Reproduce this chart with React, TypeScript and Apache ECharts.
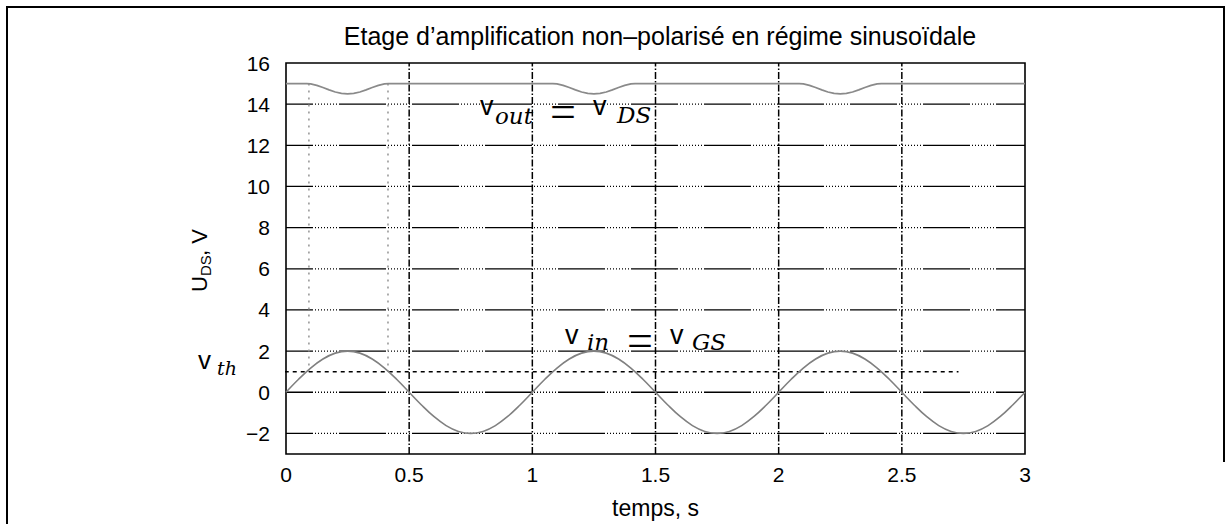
import React, { useEffect, useRef } from "react";
import * as echarts from "echarts";

const titleText = "Etage d’amplification non–polarisé en régime sinusoïdale";
const xAxisName = "temps, s";

// time samples for v_in (s)
const timeS = [
  0, 0.05, 0.1, 0.15, 0.2, 0.25, 0.3, 0.35, 0.4, 0.45,
  0.5, 0.55, 0.6, 0.65, 0.7, 0.75, 0.8, 0.85, 0.9, 0.95,
  1, 1.05, 1.1, 1.15, 1.2, 1.25, 1.3, 1.35, 1.4, 1.45,
  1.5, 1.55, 1.6, 1.65, 1.7, 1.75, 1.8, 1.85, 1.9, 1.95,
  2, 2.05, 2.1, 2.15, 2.2, 2.25, 2.3, 2.35, 2.4, 2.45,
  2.5, 2.55, 2.6, 2.65, 2.7, 2.75, 2.8, 2.85, 2.9, 2.95,
  3,
];
// v_in = v_GS (V)
const vinValues = [
  0, 0.618, 1.176, 1.618, 1.902, 2, 1.902, 1.618, 1.176, 0.618,
  0, -0.618, -1.176, -1.618, -1.902, -2, -1.902, -1.618, -1.176, -0.618,
  0, 0.618, 1.176, 1.618, 1.902, 2, 1.902, 1.618, 1.176, 0.618,
  0, -0.618, -1.176, -1.618, -1.902, -2, -1.902, -1.618, -1.176, -0.618,
  0, 0.618, 1.176, 1.618, 1.902, 2, 1.902, 1.618, 1.176, 0.618,
  0, -0.618, -1.176, -1.618, -1.902, -2, -1.902, -1.618, -1.176, -0.618,
  0,
];

// v_out = v_DS samples
const voutTime = [
  0, 0.083, 0.1, 0.125, 0.15, 0.175, 0.2, 0.225, 0.25, 0.275, 0.3, 0.325, 0.35, 0.375, 0.4, 0.417,
  1.083, 1.1, 1.125, 1.15, 1.175, 1.2, 1.225, 1.25, 1.275, 1.3, 1.325, 1.35, 1.375, 1.4, 1.417,
  2.083, 2.1, 2.125, 2.15, 2.175, 2.2, 2.225, 2.25, 2.275, 2.3, 2.325, 2.35, 2.375, 2.4, 2.417,
  3,
];
const voutValues = [
  15, 15, 14.985, 14.914, 14.809, 14.694, 14.593, 14.524, 14.5, 14.524, 14.593, 14.694, 14.809, 14.914, 14.985, 15,
  15, 14.985, 14.914, 14.809, 14.694, 14.593, 14.524, 14.5, 14.524, 14.593, 14.694, 14.809, 14.914, 14.985, 15,
  15, 14.985, 14.914, 14.809, 14.694, 14.593, 14.524, 14.5, 14.524, 14.593, 14.694, 14.809, 14.914, 14.985, 15,
  15,
];

// threshold voltage line
const vthValue = 1;
const vthStartT = -0.2;
const vthEndT = 2.73;

// dotted drop lines
const dropTimes = [0.093, 0.414];
const dropTop = 15;
const dropBottom = 1;

const xGridLines = [0.5, 1, 1.5, 2, 2.5];
const yGridLines = [-2, 0, 2, 4, 6, 8, 10, 12, 14];
const xMin = 0;
const xMax = 3;
const yMin = -3;
const yMax = 16;

const SANS = "Liberation Sans, Arial, Helvetica, sans-serif";
const SERIF_IT = "DejaVu Serif, serif";
const EQ_FONT = "Liberation Serif, serif";

function txt(x: number, y: number, text: string, fontSize: number, fontFamily: string, italic = false, align = "left") {
  return {
    type: "text",
    x,
    y,
    silent: true,
    style: {
      text,
      fontSize,
      fontFamily,
      fontStyle: italic ? "italic" : "normal",
      fill: "#000",
      align,
      verticalAlign: "middle",
    },
  };
}

export default function App() {
  const ref = useRef<HTMLDivElement>(null);
  useEffect(() => {
    if (!ref.current) return;
    const chart = echarts.init(ref.current, undefined, { renderer: "svg" });
    const hDash = [47, 2, 1, 2, 1, 2, 1, 2, 1, 2, 1, 2, 1, 2, 1, 2, 1, 2];
    const option: any = {
      animation: false,
      backgroundColor: "#fff",
      title: {
        text: titleText,
        left: 655,
        top: 18,
        textAlign: "center",
        textStyle: { fontFamily: SANS, fontSize: 25, fontWeight: "normal", color: "#000" },
      },
      grid: {
        left: 286,
        right: 206,
        top: 63,
        bottom: 66,
        show: true,
        borderColor: "#000",
        borderWidth: 1.6,
        backgroundColor: "transparent",
      },
      xAxis: {
        type: "value",
        min: xMin,
        max: xMax,
        interval: 0.5,
        name: xAxisName,
        nameLocation: "middle",
        nameGap: 42,
        nameTextStyle: { fontFamily: SANS, fontSize: 23, color: "#000" },
        axisLine: { show: false },
        axisTick: { show: false },
        splitLine: { show: false },
        axisLabel: { fontFamily: SANS, fontSize: 21, color: "#000", margin: 10 },
      },
      yAxis: {
        type: "value",
        min: yMin,
        max: yMax,
        interval: 1,
        axisLine: { show: false },
        axisTick: { show: false },
        splitLine: { show: false },
        axisLabel: {
          fontFamily: SANS,
          fontSize: 21,
          color: "#000",
          margin: 16,
          formatter: (v: number) => (Math.round(v) % 2 === 0 ? String(v).replace("-", "−") : ""),
        },
      },
      series: [
        ...yGridLines.map((v) => ({
          type: "line",
          data: [
            [xMin, v],
            [xMax, v],
          ],
          showSymbol: false,
          z: 1,
          silent: true,
          lineStyle: { color: "#000", width: 1.3, type: hDash, dashOffset: 20 },
        })),
        ...xGridLines.map((t) => ({
          type: "line",
          data: [
            [t, yMin],
            [t, yMax],
          ],
          showSymbol: false,
          z: 1,
          silent: true,
          lineStyle: { color: "#000", width: 1.5, type: [7, 2, 1.5, 2] },
        })),
        ...dropTimes.map((t) => ({
          type: "line",
          data: [
            [t, dropTop],
            [t, dropBottom],
          ],
          showSymbol: false,
          z: 2,
          silent: true,
          lineStyle: { color: "#999", width: 1.6, type: [2, 5] },
        })),
        {
          type: "line",
          name: "vth",
          data: [
            [vthStartT, vthValue],
            [vthEndT, vthValue],
          ],
          clip: false,
          showSymbol: false,
          z: 3,
          silent: true,
          lineStyle: { color: "#000", width: 1.4, type: [4, 4] },
        },
        {
          type: "line",
          name: "vin",
          data: timeS.map((t, i) => [t, vinValues[i]]),
          smooth: 0.4,
          showSymbol: false,
          z: 4,
          silent: true,
          lineStyle: { color: "#808080", width: 1.6 },
        },
        {
          type: "line",
          name: "vout",
          data: voutTime.map((t, i) => [t, voutValues[i]]),
          showSymbol: false,
          z: 4,
          silent: true,
          lineStyle: { color: "#8a8a8a", width: 1.7 },
        },
      ],
      graphic: [
        // outer frame
        { type: "line", silent: true, shape: { x1: 6, y1: 7, x2: 1225, y2: 7 }, style: { stroke: "#000", lineWidth: 2 } },
        { type: "line", silent: true, shape: { x1: 7, y1: 6, x2: 7, y2: 524 }, style: { stroke: "#000", lineWidth: 2 } },
        { type: "line", silent: true, shape: { x1: 1224, y1: 6, x2: 1224, y2: 462 }, style: { stroke: "#000", lineWidth: 2 } },
        // y axis name, rotated
        {
          type: "group",
          x: 199,
          y: 261,
          rotation: Math.PI / 2,
          silent: true,
          children: [
            txt(-31, 0, "U", 22, SANS),
            txt(-15, 6, "DS", 15, SANS),
            txt(5, 0, ", V", 22, SANS),
          ],
        },
        // v_out = v_DS
        txt(480, 106, "v", 27, SANS),
        txt(495, 116, "out", 23, SERIF_IT, true),
        txt(550, 111, "=", 46, EQ_FONT),
        txt(593, 106, "v", 27, SANS),
        txt(617, 115, "DS", 23, SERIF_IT, true),
        // v_in = v_GS
        txt(565, 335, "v", 27, SANS),
        txt(587, 342, "in", 23, SERIF_IT, true),
        txt(627, 340, "=", 46, EQ_FONT),
        txt(670, 335, "v", 27, SANS),
        txt(692, 342, "GS", 23, SERIF_IT, true),
        // v_th
        txt(198, 360, "v", 26, SANS),
        txt(217, 368, "th", 19, SERIF_IT, true),
      ],
    };
    chart.setOption(option);
    return () => chart.dispose();
  }, []);
  return (
    <div
      ref={ref}
      style={{ position: "fixed", left: 0, top: 0, width: 1231, height: 524, background: "#fff" }}
    />
  );
}
